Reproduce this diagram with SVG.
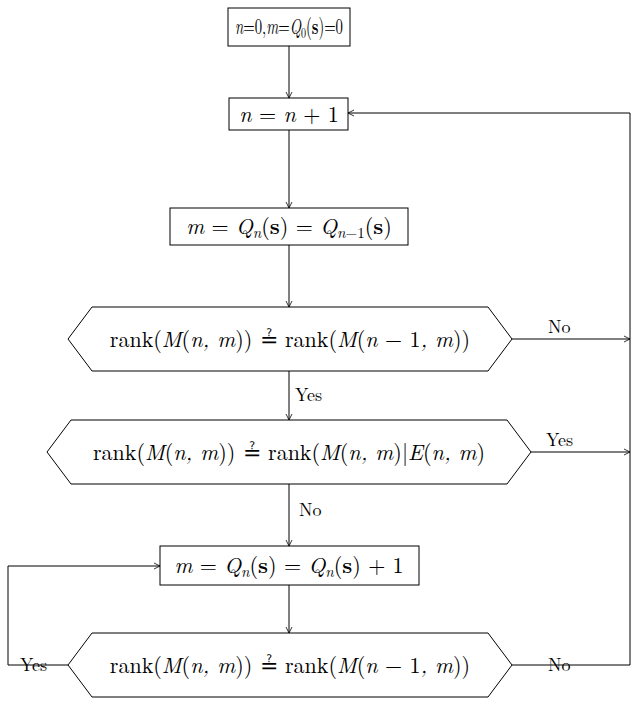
<svg xmlns="http://www.w3.org/2000/svg" width="637" height="717" viewBox="0 0 637 717">
<defs>
<marker id="a" markerWidth="8" markerHeight="8" refX="7" refY="4" orient="auto" markerUnits="userSpaceOnUse">
<path d="M1,1 L7,4 L1,7" fill="none" stroke="#000" stroke-width="0.8"/>
</marker>
<style>
.n{fill:#fff;stroke:#000;stroke-width:1}
.c{fill:none;stroke:#000;stroke-width:1}
text{font-family:"Latin Modern Roman","Liberation Serif",serif;font-size:18px;fill:#000}
.t{font-size:22px}
.m{text-anchor:middle}
.i{font-style:italic}
.b{font-weight:bold}
.s{font-size:15px}
</style>
</defs>
<g id="connectors">
<path class="c" d="M289,46 V98" marker-end="url(#a)"/>
<path class="c" d="M289,130 V208" marker-end="url(#a)"/>
<path class="c" d="M289,245 V307" marker-end="url(#a)"/>
<path class="c" d="M289,371 V420" marker-end="url(#a)"/>
<path class="c" d="M289,484 V546" marker-end="url(#a)"/>
<path class="c" d="M289,585 V633" marker-end="url(#a)"/>
<path class="c" d="M512,339 H630" marker-end="url(#a)"/>
<path class="c" d="M531,452 H630" marker-end="url(#a)"/>
<path class="c" d="M512,665 H630 V113 H348" marker-end="url(#a)"/>
<path class="c" d="M68,665 H8 V566 H160" marker-end="url(#a)"/>
<text x="548" y="333">No</text>
<text x="546" y="446">Yes</text>
<text x="548" y="671">No</text>
<text x="20" y="671">Yes</text>
<text x="295" y="401">Yes</text>
<text x="299" y="516">No</text>
</g>
<g id="n1"><rect class="n" x="228" y="8" width="122" height="38"/>
<text class="t" x="235" y="34" textLength="108" lengthAdjust="spacingAndGlyphs"><tspan class="i">n</tspan>=0,<tspan class="i">m</tspan>=<tspan class="i">Q</tspan><tspan class="s" dy="4">0</tspan><tspan dy="-4">(</tspan><tspan class="b">s</tspan>)=0</text></g>
<g id="n2"><rect class="n" x="229" y="98" width="119" height="32"/>
<text class="t m" x="289" y="122"><tspan class="i">n</tspan> = <tspan class="i">n</tspan> + 1</text></g>
<g id="n3"><rect class="n" x="170" y="208" width="238" height="37"/>
<text class="t m" x="289" y="234"><tspan class="i">m</tspan> = <tspan class="i">Q</tspan><tspan class="s i" dy="4">n</tspan><tspan dy="-4">(</tspan><tspan class="b">s</tspan>) = <tspan class="i">Q</tspan><tspan class="s" dy="4"><tspan class="i">n</tspan>−1</tspan><tspan dy="-4">(</tspan><tspan class="b">s</tspan>)</text></g>
<g id="n4"><polygon class="n" points="68,339 92,307 488,307 512,339 488,371 92,371"/>
<text class="t m" x="290" y="347">rank(<tspan class="i">M</tspan>(<tspan class="i">n, m</tspan>)) ≟ rank(<tspan class="i">M</tspan>(<tspan class="i">n</tspan> − 1<tspan class="i">, m</tspan>))</text></g>
<g id="n5"><polygon class="n" points="47,452 71,420 507,420 531,452 507,484 71,484"/>
<text class="t m" x="289" y="460">rank(<tspan class="i">M</tspan>(<tspan class="i">n, m</tspan>)) ≟ rank(<tspan class="i">M</tspan>(<tspan class="i">n, m</tspan>)|<tspan class="i">E</tspan>(<tspan class="i">n, m</tspan>)</text></g>
<g id="n6"><rect class="n" x="160" y="546" width="259" height="39"/>
<text class="t m" x="289" y="573"><tspan class="i">m</tspan> = <tspan class="i">Q</tspan><tspan class="s i" dy="4">n</tspan><tspan dy="-4">(</tspan><tspan class="b">s</tspan>) = <tspan class="i">Q</tspan><tspan class="s i" dy="4">n</tspan><tspan dy="-4">(</tspan><tspan class="b">s</tspan>) + 1</text></g>
<g id="n7"><polygon class="n" points="68,665 92,633 488,633 512,665 488,697 92,697"/>
<text class="t m" x="290" y="673">rank(<tspan class="i">M</tspan>(<tspan class="i">n, m</tspan>)) ≟ rank(<tspan class="i">M</tspan>(<tspan class="i">n</tspan> − 1<tspan class="i">, m</tspan>))</text></g>
</svg>
